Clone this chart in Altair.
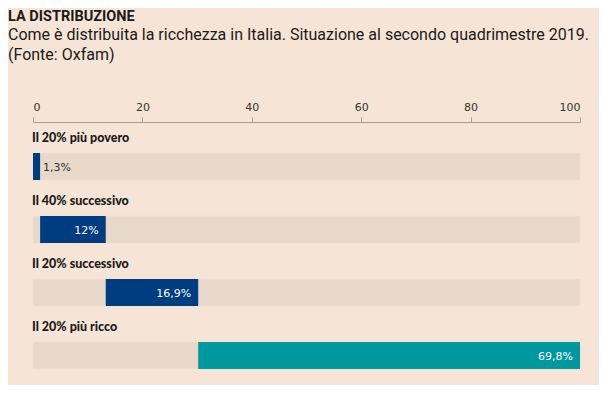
import altair as alt
import pandas as pd

categories = ["Il 20% più povero", "Il 40% successivo", "Il 20% successivo", "Il 20% più ricco"]
values = [1.3, 12.0, 16.9, 69.8]
labels = ["1,3%", "12%", "16,9%", "69,8%"]
colors = ["#003d80", "#003d80", "#003d80", "#00989f"]
label_colors = ["#333333", "#ffffff", "#ffffff", "#ffffff"]

starts = []
acc = 0.0
for v in values:
    starts.append(acc)
    acc += v

df = pd.DataFrame({
    "cat": categories,
    "start": starts,
    "end": [s + v for s, v in zip(starts, values)],
    "label": labels,
    "color": colors,
    "lcolor": label_colors,
    "full0": [0] * 4,
    "full100": [100] * 4,
})

BG = "#f6e5d6"

y = alt.Y("cat:N", sort=categories, axis=None,
          scale=alt.Scale(paddingInner=0, paddingOuter=0))

base = alt.Chart(df)

bg_bars = base.mark_bar(height=27, yOffset=13, color="#e7d8c9", stroke="#efe0d2", strokeWidth=1).encode(
    x=alt.X("full0:Q", scale=alt.Scale(domain=[0, 100], nice=False),
            axis=alt.Axis(orient="top", values=[0, 20, 40, 60, 80, 100], grid=False,
                          domainColor="#a99d92", tickColor="#a99d92", tickSize=5,
                          labelFont="DejaVu Sans", labelFontSize=11, labelColor="#333333",
                          labelPadding=5, title=None)),
    x2="full100:Q",
    y=y,
)

bars = base.mark_bar(height=27, yOffset=13).encode(
    x="start:Q",
    x2="end:Q",
    y=y,
    color=alt.Color("color:N", scale=None, legend=None),
)

inside = base.transform_filter(alt.datum.end - alt.datum.start > 5).mark_text(
    align="right", baseline="middle", dx=-7, yOffset=14,
    font="DejaVu Sans", fontSize=11
).encode(
    x="end:Q", y=y, text="label:N",
    color=alt.Color("lcolor:N", scale=None, legend=None),
)

outside = base.transform_filter(alt.datum.end - alt.datum.start <= 5).mark_text(
    align="left", baseline="middle", dx=3, yOffset=14,
    font="DejaVu Sans", fontSize=11
).encode(
    x="end:Q", y=y, text="label:N",
    color=alt.Color("lcolor:N", scale=None, legend=None),
)

row_labels = base.mark_text(
    align="left", baseline="middle", dx=-1, yOffset=-16,
    font="Lato", fontSize=12.5, fontWeight=900, color="#1a1a1a"
).encode(
    x="full0:Q", y=y, text="cat:N",
)

chart = alt.layer(bg_bars, bars, inside, outside, row_labels).properties(
    width=547,
    height=252,
    background=BG,
    padding={"left": 25, "top": 114, "right": 19, "bottom": 11},
    autosize=alt.AutoSizeParams(type="none"),
    title=alt.TitleParams(
        text="LA DISTRIBUZIONE",
        subtitle=["Come è distribuita la ricchezza in Italia. Situazione al secondo quadrimestre 2019.",
                  "(Fonte: Oxfam)"],
        anchor="start", frame="group", dx=-25, offset=37,
        font="Roboto", fontSize=14.5, fontWeight="bold", color="#1a1a1a",
        subtitleFont="Roboto", subtitleFontSize=16, subtitleColor="#1a1a1a",
        subtitlePadding=3, subtitleLineHeight=20,
    ),
).configure_view(stroke=None)

chart.save("out.html", embed_options={"renderer": "svg", "actions": False})
